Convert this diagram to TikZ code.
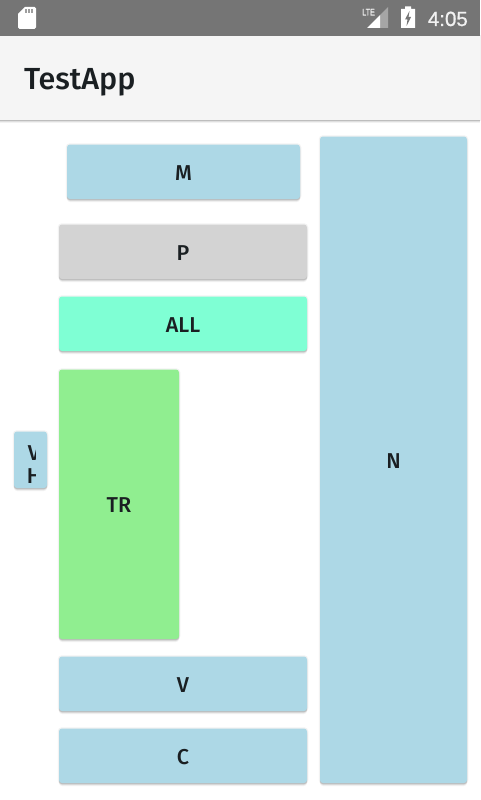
\documentclass[tikz,border=0pt]{standalone}
\usepackage{xcolor}
\usepackage{fontspec}
\usepackage{tikz}
\usetikzlibrary{positioning,shadows}
\setmainfont{Liberation Sans}
\newfontfamily\mediumfont{Fira Sans Medium}
\newfontfamily\clockfont[FakeBold=1]{Liberation Sans}
\definecolor{BarGray}{HTML}{757575}
\definecolor{AppWhite}{HTML}{F5F5F5}
\definecolor{InkDark}{HTML}{1A1F22}
\definecolor{TileBlue}{HTML}{ADD8E6}
\definecolor{TileGray}{HTML}{D3D3D3}
\definecolor{TileAqua}{HTML}{7FFFD4}
\definecolor{TileGreen}{HTML}{90EE90}

\begin{document}
\begin{tikzpicture}[
  x=1pt,y=-1pt,
  node distance=18pt,
  softshade/.style={
    preaction={draw=black,draw opacity=.05,line width=2.5pt},
    preaction={drop shadow={shadow xshift=0pt,shadow yshift=-3pt,opacity=.05,fill=black}},
    preaction={drop shadow={shadow xshift=0pt,shadow yshift=-2pt,opacity=.08,fill=black}},
    preaction={drop shadow={shadow xshift=0pt,shadow yshift=-1pt,opacity=.1,fill=black}}},
  tile/.style={softshade,rectangle,rounded corners=3pt,inner sep=0pt,outer sep=0pt,
    text=InkDark,text height=16.8pt,text depth=0pt,font=\mediumfont\fontsize{21.5}{24}\selectfont},
  wide/.style={tile,minimum width=248pt,minimum height=54.5pt},
  bar/.style={rectangle,inner sep=0pt,outer sep=0pt,minimum width=480pt},
  icon/.style={fill=white,draw=none}
]
\useasboundingbox (0,0) rectangle (480,800);
\fill[white] (0,0) rectangle (480,800);

% top of the screen
\node[bar,softshade,fill=AppWhite,minimum height=84pt,anchor=north west] (appbar) at (0,36) {};
\node[bar,fill=BarGray,minimum height=36pt,anchor=north west] (statusbar) at (0,0) {};
\node[anchor=base west,inner sep=0pt,text=InkDark,font=\mediumfont\fontsize{30.5}{34}\selectfont] (title) at (24,89) {TestApp};
\node[anchor=base east,inner sep=0pt,text=white!95!black,font=\clockfont\fontsize{20.5}{24}\selectfont] (clock) at (468,26) {4:05};
\node[anchor=base west,inner sep=0pt,text=white,font=\clockfont\fontsize{8}{9}\selectfont] (lte) at (362,15.5) {\scalebox{.9}[1.2]{LTE}};

% status icons
\fill[icon] (18,14) -- (25,7) -- (34.5,7) -- (36,8.5) -- (36,27.5) -- (34.5,29) -- (19.5,29) -- (18,27.5) -- cycle;
\foreach \px in {26,29,32}
  \fill[BarGray!70] (\px-.9,9.5) rectangle (\px+.9,13);
\fill[white!65!black] (380,15) -- (388,7) -- (388,28) -- (380,28) -- cycle;
\fill[icon] (367,28) -- (380,15) -- (380,28) -- cycle;
\fill[icon] (401,9) -- (405,9) -- (405,6.5) -- (411,6.5) -- (411,9) -- (415,9) -- (415,28) -- (401,28) -- cycle;
\fill[BarGray] (409.5,11) -- (405,19.5) -- (407.5,19.5) -- (406.5,26) -- (411,17) -- (408.5,17) -- cycle;

% tiles
\node[wide,fill=TileGray,anchor=north west] (pp) at (59,224.5) {P};
\node[tile,fill=TileBlue,minimum width=233pt,minimum height=54.5pt,anchor=north west] (mm) at (67,144.5) {M};
\node[wide,fill=TileAqua,below=17.5pt of pp] (all) {ALL};
\node[tile,fill=TileGreen,minimum width=120pt,minimum height=269.5pt,anchor=north west] (tr) at (59,369.5) {TR};
\node[wide,fill=TileBlue,anchor=north west] (vv) at (59,656.5) {V};
\node[wide,fill=TileBlue,below=17.5pt of vv] (cc) {C};
\node[tile,fill=TileBlue,minimum width=147pt,minimum height=646.5pt,anchor=north west] (nn) at (320,136.5) {N};
\node[tile,fill=TileBlue,minimum width=33pt,minimum height=56.5pt,anchor=north west] (vh) at (14,431.5) {};
\begin{scope}
  \clip (14,432) rectangle (35,488);
  \node[inner sep=0pt,anchor=north,text=InkDark,font=\mediumfont\fontsize{21.5}{23}\selectfont,align=center] (vhtext) at (34,445.5) {V\\H};
\end{scope}
\end{tikzpicture}
\end{document}
